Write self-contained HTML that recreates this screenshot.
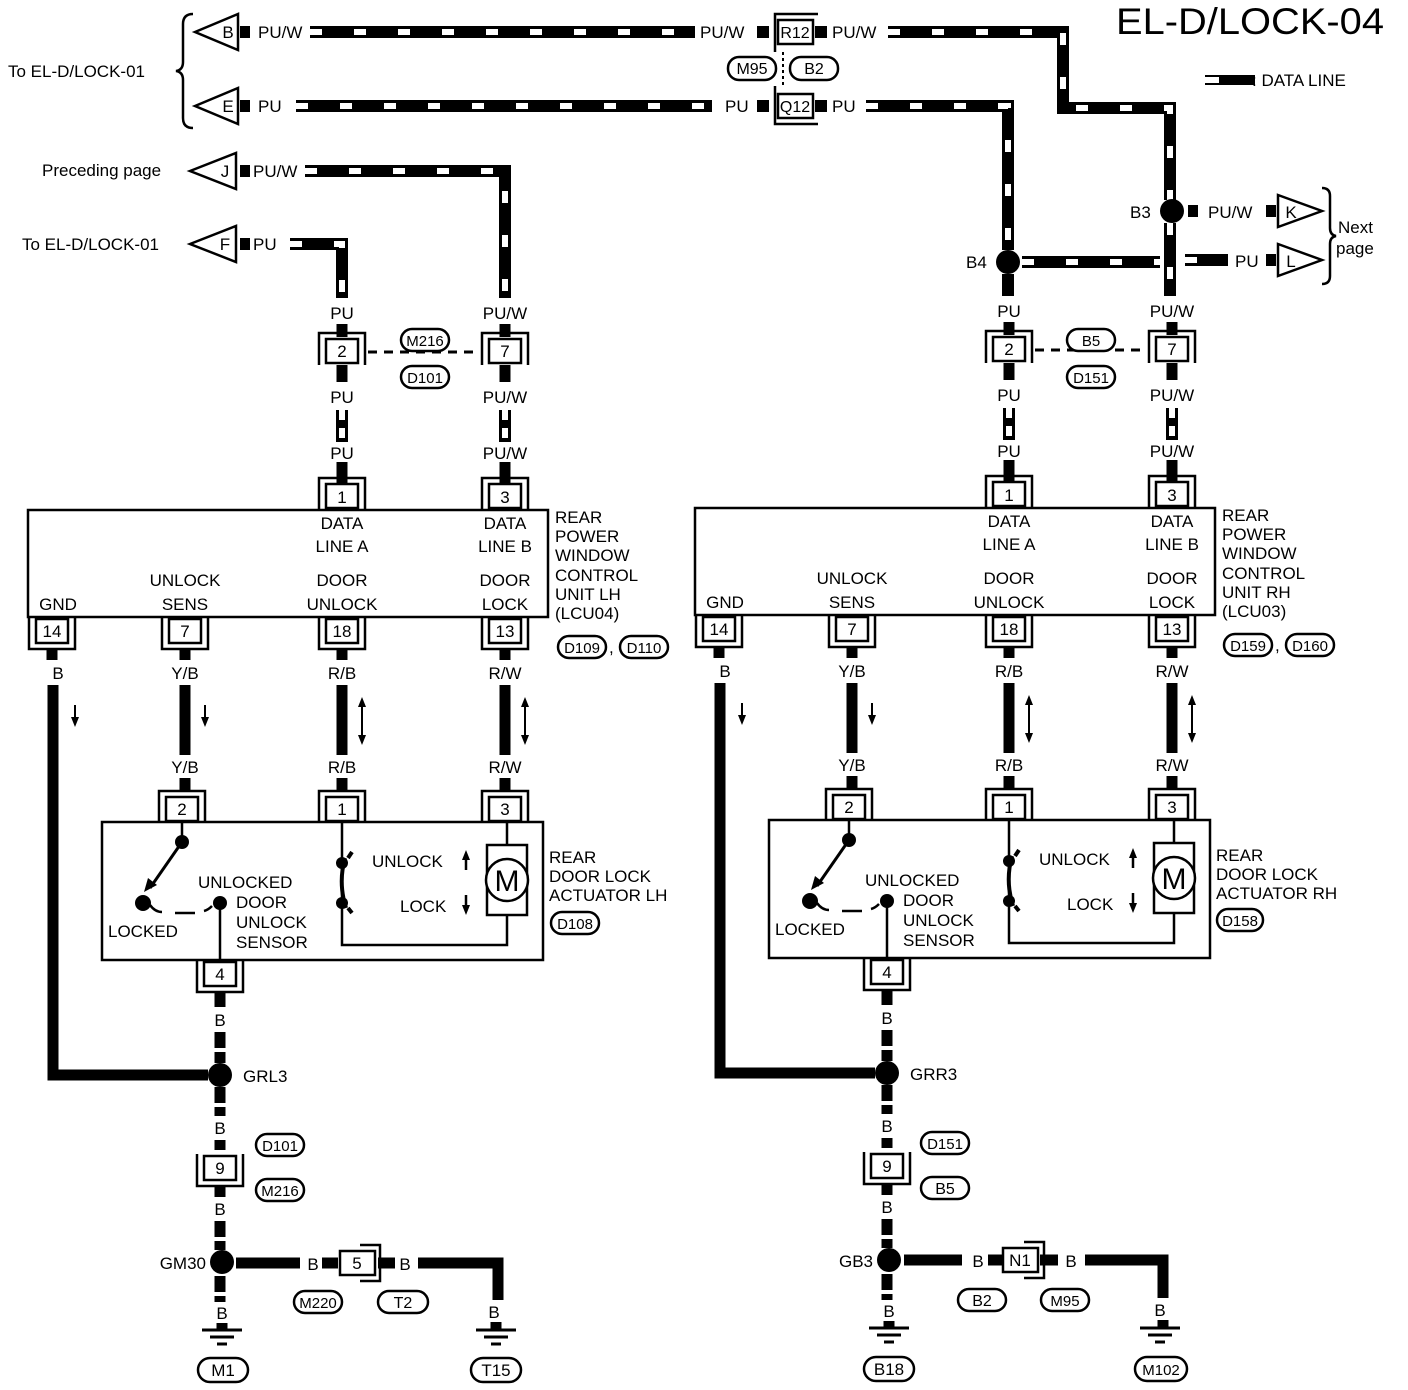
<!DOCTYPE html>
<html><head><meta charset="utf-8"><style>
html,body{margin:0;padding:0;background:#fff}
svg{display:block}
text{font-family:"Liberation Sans",Arial,sans-serif;font-size:17px;fill:#000}
.dl{stroke:#000;stroke-width:12;fill:none}
.dw{stroke:#fff;stroke-width:6;fill:none;stroke-dasharray:12 32}
.w{stroke:#000;stroke-width:11;fill:none}
.wd{stroke:#000;stroke-width:11;fill:none;stroke-dasharray:16 4}
.t{stroke:#000;stroke-width:2.5;fill:none}
.o{stroke:#000;stroke-width:2.5;fill:#fff}
.c{text-anchor:middle}
</style></head><body>
<svg width="1408" height="1390" viewBox="0 0 1408 1390" xmlns="http://www.w3.org/2000/svg">
<defs>
<g id="cT"><rect x="-16" y="-12" width="32" height="24" class="o"/><path d="M-23 14V-18H23V14" class="t"/></g>
<g id="cB"><rect x="-16" y="-12" width="32" height="24" class="o"/><path d="M-23 -14V18H23V-14" class="t"/></g>
<g id="gnd"><line x1="-20" y1="0" x2="20" y2="0" stroke="#000" stroke-width="3"/><line x1="-12" y1="7" x2="12" y2="7" stroke="#000" stroke-width="3"/><line x1="-5" y1="14" x2="5" y2="14" stroke="#000" stroke-width="3"/></g>
<g id="arD"><line x1="0" y1="0" x2="0" y2="14" stroke="#000" stroke-width="2"/><path d="M-4 12L0 22L4 12Z"/></g>
<g id="arUD"><line x1="0" y1="8" x2="0" y2="40" stroke="#000" stroke-width="2"/><path d="M-4 10L0 0L4 10Z"/><path d="M-4 38L0 48L4 38Z"/></g>

<g id="half">
 <rect x="28" y="510" width="520" height="107" class="t"/>
 <path d="M342 324V337M342 365V382M342 462V484" class="w"/>
 <path d="M505 324V337M505 365V382M505 462V484" class="w"/>
 <path d="M342 410V442" class="dl"/><path d="M342 410V442" class="dw" style="stroke-dasharray:10 8"/>
 <path d="M505 410V442" class="dl"/><path d="M505 410V442" class="dw" style="stroke-dasharray:10 8"/>
 <use href="#cT" x="342" y="351"/><use href="#cT" x="505" y="351"/>
 <line x1="368" y1="352" x2="480" y2="352" stroke="#000" stroke-width="3" stroke-dasharray="9 7"/>
 <use href="#cT" x="342" y="496"/><use href="#cT" x="505" y="496"/>
 <use href="#cB" x="52" y="631"/><use href="#cB" x="185" y="631"/><use href="#cB" x="342" y="631"/><use href="#cB" x="505" y="631"/>
 <path d="M52 648V660M185 648V660M342 648V660M505 648V660" class="w"/>
 <path d="M185 685V755M342 685V755M505 685V755" class="w"/>
 <path d="M53 685V1075H208" class="w"/>
 <use href="#arD" x="75" y="705"/><use href="#arD" x="205" y="705"/>
 <use href="#arUD" x="362" y="697"/><use href="#arUD" x="525" y="697"/>
 <path d="M185 778V792M342 778V792M505 778V792" class="w"/>
 <use href="#cT" x="182" y="809"/><use href="#cT" x="342" y="809"/><use href="#cT" x="505" y="809"/>
 <rect x="102" y="822" width="441" height="138" class="t"/>
 <line x1="182" y1="821" x2="182" y2="842" stroke="#000" stroke-width="2.5"/>
 <circle cx="182" cy="842" r="7"/>
 <line x1="182" y1="842" x2="150" y2="888" stroke="#000" stroke-width="3"/>
 <path d="M144 892L148 878L157 885Z"/>
 <circle cx="143" cy="903" r="8"/>
 <path d="M150 905Q155 912 162 912" class="t"/>
 <line x1="175" y1="913" x2="195" y2="913" stroke="#000" stroke-width="2.5"/>
 <circle cx="220" cy="903" r="7"/>
 <path d="M212 906Q208 910 204 911" class="t"/>
 <line x1="220" y1="903" x2="220" y2="962" stroke="#000" stroke-width="2.5"/>
 <path d="M342 822V945H507V915M507 822V845" class="t"/>
 <circle cx="342" cy="863" r="6"/><circle cx="342" cy="903" r="6"/>
 <path d="M345 858Q338 883 346 908M348 858L352 852M348 908L352 913" stroke="#000" stroke-width="4" fill="none"/>
 <rect x="487" y="845" width="40" height="70" class="o"/>
 <circle cx="507" cy="880" r="21" class="o"/>
 <line x1="466" y1="858" x2="466" y2="870" stroke="#000" stroke-width="2.5"/><path d="M462 860L466 850L470 860Z"/>
 <line x1="466" y1="895" x2="466" y2="907" stroke="#000" stroke-width="2.5"/><path d="M462 905L466 915L470 905Z"/>
 <use href="#cB" x="220" y="974"/>
 <path d="M220 991V1008M220 1032V1063M220 1087V1116M220 1140V1150M220 1186V1197M220 1221V1250M220 1276V1302M222 1323V1330" class="wd"/>
 <circle cx="220" cy="1075" r="12"/>
 <use href="#cB" x="220" y="1168"/>
 <circle cx="222" cy="1262" r="12"/>
 <use href="#gnd" x="222" y="1330"/>
</g>
</defs>

<use href="#half"/>
<use href="#half" transform="translate(667,-2)"/>

<path d="M310 32H695" class="dl"/><path d="M310 32H695" class="dw"/>
<path d="M888 32H1063V108H1170V200" class="dl"/><path d="M888 32H1063V108H1170V200" class="dw"/>
<path d="M296 106H712" class="dl"/><path d="M296 106H712" class="dw"/>
<path d="M866 106H1008V250" class="dl"/><path d="M866 106H1008V250" class="dw"/>
<path d="M305 171H505V298" class="dl"/><path d="M305 171H505V298" class="dw"/>
<path d="M290 244H342V298" class="dl"/><path d="M290 244H342V298" class="dw"/>
<path d="M1022 262H1160" class="dl"/><path d="M1022 262H1160" class="dw"/>
<path d="M1170 223V296" class="dl"/><path d="M1170 223V296" class="dw"/>
<path d="M1185 260H1228" class="dl"/><path d="M1185 260H1228" class="dw"/>
<path d="M1008 274V296" class="dl"/>
<rect x="240" y="26" width="10" height="12"/><rect x="240" y="100" width="10" height="12"/>
<rect x="240" y="165" width="10" height="12"/><rect x="240" y="238" width="10" height="12"/>
<rect x="757" y="26" width="12" height="12"/><rect x="815" y="26" width="12" height="12"/>
<rect x="757" y="100" width="12" height="12"/><rect x="815" y="100" width="12" height="12"/>
<rect x="1188" y="205" width="10" height="12"/><rect x="1266" y="205" width="10" height="12"/>
<rect x="1266" y="254" width="10" height="12"/>
<path d="M195 32L238 14V50Z" class="o"/><text x="228" y="38" class="c">B</text>
<path d="M195 106L238 88V124Z" class="o"/><text x="228" y="112" class="c">E</text>
<path d="M190 171L236 153V189Z" class="o"/><text x="225" y="177" class="c">J</text>
<path d="M190 244L236 226V262Z" class="o"/><text x="225" y="250" class="c">F</text>
<text x="258" y="38">PU/W</text><text x="258" y="112">PU</text>
<text x="253" y="177">PU/W</text><text x="253" y="250">PU</text>
<path d="M193 14Q183 14 183 24V62Q183 70 176 71Q183 72 183 80V118Q183 128 193 128" class="t"/>
<text x="8" y="77">To EL-D/LOCK-01</text>
<text x="42" y="176">Preceding page</text>
<text x="22" y="250">To EL-D/LOCK-01</text>
<text x="700" y="38">PU/W</text><text x="832" y="38">PU/W</text>
<text x="725" y="112">PU</text><text x="832" y="112">PU</text>
<rect x="778" y="20" width="35" height="24" class="o"/><text x="795" y="38" class="c" style="font-size:16px">R12</text>
<path d="M775 52V14H818" class="t"/>
<rect x="778" y="94" width="35" height="24" class="o"/><text x="795" y="112" class="c" style="font-size:16px">Q12</text>
<path d="M775 86V124H818" class="t"/>
<line x1="783" y1="52" x2="783" y2="86" stroke="#000" stroke-width="2" stroke-dasharray="3 3"/>
<rect x="728" y="57" width="48" height="23" rx="11" class="o"/><text x="752" y="74" class="c" style="font-size:16px">M95</text>
<rect x="790" y="57" width="48" height="23" rx="11" class="o"/><text x="814" y="74" class="c" style="font-size:16px">B2</text>
<text x="1116" y="34" style="font-size:37px" textLength="268" lengthAdjust="spacingAndGlyphs">EL-D/LOCK-04</text>
<path d="M1205 80H1255" class="dl" style="stroke-width:10"/><rect x="1205" y="77" width="14" height="6" fill="#fff"/>
<text x="1252" y="86">: DATA LINE</text>
<circle cx="1172" cy="211" r="12"/><text x="1130" y="218">B3</text>
<circle cx="1008" cy="262" r="12"/><text x="966" y="268">B4</text>
<text x="1208" y="218">PU/W</text><text x="1235" y="267">PU</text>
<path d="M1278 195L1322 211L1278 227Z" class="o"/><text x="1291" y="218" class="c">K</text>
<path d="M1278 244L1322 260L1278 276Z" class="o"/><text x="1291" y="267" class="c">L</text>
<path d="M1322 188Q1330 188 1330 196V228Q1330 235 1336 236Q1330 237 1330 244V276Q1330 284 1322 284" class="t"/>
<text x="1338" y="233">Next</text><text x="1336" y="254">page</text>

<g>
<text x="342" y="319" class="c">PU</text><text x="505" y="319" class="c">PU/W</text>
<text x="342" y="357" class="c">2</text><text x="505" y="357" class="c">7</text>
<text x="342" y="403" class="c">PU</text><text x="505" y="403" class="c">PU/W</text>
<text x="342" y="459" class="c">PU</text><text x="505" y="459" class="c">PU/W</text>
<text x="342" y="503" class="c">1</text><text x="505" y="503" class="c">3</text>
<text x="342" y="529" class="c">DATA</text><text x="505" y="529" class="c">DATA</text>
<text x="342" y="552" class="c">LINE A</text><text x="505" y="552" class="c">LINE B</text>
<text x="185" y="586" class="c">UNLOCK</text><text x="342" y="586" class="c">DOOR</text><text x="505" y="586" class="c">DOOR</text>
<text x="58" y="610" class="c">GND</text><text x="185" y="610" class="c">SENS</text><text x="342" y="610" class="c">UNLOCK</text><text x="505" y="610" class="c">LOCK</text>
<text x="52" y="637" class="c">14</text><text x="185" y="637" class="c">7</text><text x="342" y="637" class="c">18</text><text x="505" y="637" class="c">13</text>
<text x="58" y="679" class="c">B</text><text x="185" y="679" class="c">Y/B</text><text x="342" y="679" class="c">R/B</text><text x="505" y="679" class="c">R/W</text>
<text x="185" y="773" class="c">Y/B</text><text x="342" y="773" class="c">R/B</text><text x="505" y="773" class="c">R/W</text>
<text x="182" y="815" class="c">2</text><text x="342" y="815" class="c">1</text><text x="505" y="815" class="c">3</text>
<text x="507" y="891" class="c" style="font-size:30px">M</text>
<text x="220" y="980" class="c">4</text>
<text x="220" y="1026" class="c">B</text><text x="220" y="1134" class="c">B</text>
<text x="220" y="1174" class="c">9</text><text x="220" y="1215" class="c">B</text>
<text x="222" y="1319" class="c">B</text>
</g>
<text x="555" y="523">REAR</text><text x="555" y="542">POWER</text><text x="555" y="561">WINDOW</text>
<text x="555" y="581">CONTROL</text><text x="555" y="600">UNIT LH</text><text x="555" y="619">(LCU04)</text>
<text x="372" y="867">UNLOCK</text><text x="400" y="912">LOCK</text>
<text x="198" y="888">UNLOCKED</text><text x="236" y="908">DOOR</text><text x="236" y="928">UNLOCK</text><text x="236" y="948">SENSOR</text>
<text x="108" y="937">LOCKED</text>
<text x="549" y="863">REAR</text><text x="549" y="882">DOOR LOCK</text><text x="549" y="901">ACTUATOR LH</text>
<text x="243" y="1082">GRL3</text>
<text x="206" y="1269" text-anchor="end">GM30</text>
<rect x="401" y="329" width="48" height="22" rx="11" class="o"/><text x="425" y="346" class="c" style="font-size:15px">M216</text>
<rect x="401" y="366" width="48" height="22" rx="11" class="o"/><text x="425" y="383" class="c" style="font-size:15px">D101</text>
<rect x="558" y="636" width="48" height="22" rx="11" class="o"/><text x="582" y="653" class="c" style="font-size:15px">D109</text>
<text x="609" y="653">,</text>
<rect x="620" y="636" width="48" height="22" rx="11" class="o"/><text x="644" y="653" class="c" style="font-size:15px">D110</text>
<rect x="551" y="912" width="48" height="22" rx="11" class="o"/><text x="575" y="929" class="c" style="font-size:15px">D108</text>
<rect x="256" y="1134" width="48" height="22" rx="11" class="o"/><text x="280" y="1151" class="c" style="font-size:15px">D101</text>
<rect x="256" y="1179" width="48" height="22" rx="11" class="o"/><text x="280" y="1196" class="c" style="font-size:15px">M216</text>
<path d="M236 1263H300" class="w"/><text x="313" y="1270" class="c">B</text>
<path d="M322 1263H338M378 1263H395" class="w"/>
<rect x="340" y="1251" width="35" height="24" class="o"/><text x="357" y="1269" class="c">5</text>
<path d="M360 1245H380V1281H360" class="t"/>
<text x="405" y="1270" class="c">B</text>
<path d="M418 1263H498V1300" class="w"/><text x="494" y="1318" class="c">B</text>
<path d="M496 1322V1330" class="w"/><use href="#gnd" x="496" y="1330"/>
<rect x="294" y="1291" width="48" height="22" rx="11" class="o"/><text x="318" y="1308" class="c" style="font-size:15px">M220</text>
<rect x="378" y="1291" width="50" height="22" rx="11" class="o"/><text x="403" y="1308" class="c" style="font-size:16px">T2</text>
<rect x="198" y="1358" width="50" height="24" rx="12" class="o"/><text x="223" y="1376" class="c">M1</text>
<rect x="471" y="1358" width="50" height="24" rx="12" class="o"/><text x="496" y="1376" class="c">T15</text>

<g transform="translate(667,-2)">
<text x="342" y="319" class="c">PU</text><text x="505" y="319" class="c">PU/W</text>
<text x="342" y="357" class="c">2</text><text x="505" y="357" class="c">7</text>
<text x="342" y="403" class="c">PU</text><text x="505" y="403" class="c">PU/W</text>
<text x="342" y="459" class="c">PU</text><text x="505" y="459" class="c">PU/W</text>
<text x="342" y="503" class="c">1</text><text x="505" y="503" class="c">3</text>
<text x="342" y="529" class="c">DATA</text><text x="505" y="529" class="c">DATA</text>
<text x="342" y="552" class="c">LINE A</text><text x="505" y="552" class="c">LINE B</text>
<text x="185" y="586" class="c">UNLOCK</text><text x="342" y="586" class="c">DOOR</text><text x="505" y="586" class="c">DOOR</text>
<text x="58" y="610" class="c">GND</text><text x="185" y="610" class="c">SENS</text><text x="342" y="610" class="c">UNLOCK</text><text x="505" y="610" class="c">LOCK</text>
<text x="52" y="637" class="c">14</text><text x="185" y="637" class="c">7</text><text x="342" y="637" class="c">18</text><text x="505" y="637" class="c">13</text>
<text x="58" y="679" class="c">B</text><text x="185" y="679" class="c">Y/B</text><text x="342" y="679" class="c">R/B</text><text x="505" y="679" class="c">R/W</text>
<text x="185" y="773" class="c">Y/B</text><text x="342" y="773" class="c">R/B</text><text x="505" y="773" class="c">R/W</text>
<text x="182" y="815" class="c">2</text><text x="342" y="815" class="c">1</text><text x="505" y="815" class="c">3</text>
<text x="507" y="891" class="c" style="font-size:30px">M</text>
<text x="220" y="980" class="c">4</text>
<text x="220" y="1026" class="c">B</text><text x="220" y="1134" class="c">B</text>
<text x="220" y="1174" class="c">9</text><text x="220" y="1215" class="c">B</text>
<text x="222" y="1319" class="c">B</text>
<text x="555" y="523">REAR</text><text x="555" y="542">POWER</text><text x="555" y="561">WINDOW</text>
<text x="555" y="581">CONTROL</text><text x="555" y="600">UNIT RH</text><text x="555" y="619">(LCU03)</text>
<text x="372" y="867">UNLOCK</text><text x="400" y="912">LOCK</text>
<text x="198" y="888">UNLOCKED</text><text x="236" y="908">DOOR</text><text x="236" y="928">UNLOCK</text><text x="236" y="948">SENSOR</text>
<text x="108" y="937">LOCKED</text>
<text x="549" y="863">REAR</text><text x="549" y="882">DOOR LOCK</text><text x="549" y="901">ACTUATOR RH</text>
<text x="243" y="1082">GRR3</text>
<text x="206" y="1269" text-anchor="end">GB3</text>
<rect x="400" y="331" width="48" height="22" rx="11" class="o"/><text x="424" y="348" class="c" style="font-size:15px">B5</text>
<rect x="400" y="368" width="48" height="22" rx="11" class="o"/><text x="424" y="385" class="c" style="font-size:15px">D151</text>
<rect x="557" y="636" width="48" height="22" rx="11" class="o"/><text x="581" y="653" class="c" style="font-size:15px">D159</text>
<text x="608" y="653">,</text>
<rect x="619" y="636" width="48" height="22" rx="11" class="o"/><text x="643" y="653" class="c" style="font-size:15px">D160</text>
<rect x="550" y="911" width="46" height="22" rx="11" class="o"/><text x="573" y="928" class="c" style="font-size:15px">D158</text>
<rect x="254" y="1134" width="48" height="22" rx="11" class="o"/><text x="278" y="1151" class="c" style="font-size:15px">D151</text>
<rect x="254" y="1179" width="48" height="22" rx="11" class="o"/><text x="278" y="1196" class="c" style="font-size:16px">B5</text>
</g>
<path d="M904 1260H962" class="w"/><text x="978" y="1267" class="c">B</text>
<path d="M988 1260H1002M1040 1260H1058" class="w"/>
<rect x="1003" y="1248" width="35" height="24" class="o"/><text x="1020" y="1266" class="c">N1</text>
<path d="M1024 1242H1044V1278H1024" class="t"/>
<text x="1071" y="1267" class="c">B</text>
<path d="M1085 1260H1163V1298" class="w"/><text x="1160" y="1316" class="c">B</text>
<path d="M1163 1320V1328" class="w"/><use href="#gnd" x="1160" y="1328"/>
<rect x="958" y="1289" width="48" height="22" rx="11" class="o"/><text x="982" y="1306" class="c" style="font-size:16px">B2</text>
<rect x="1041" y="1289" width="48" height="22" rx="11" class="o"/><text x="1065" y="1306" class="c" style="font-size:15px">M95</text>
<rect x="864" y="1357" width="50" height="24" rx="12" class="o"/><text x="889" y="1375" class="c">B18</text>
<rect x="1135" y="1357" width="52" height="24" rx="12" class="o"/><text x="1161" y="1375" class="c" style="font-size:15px">M102</text>
</svg>
</body></html>
